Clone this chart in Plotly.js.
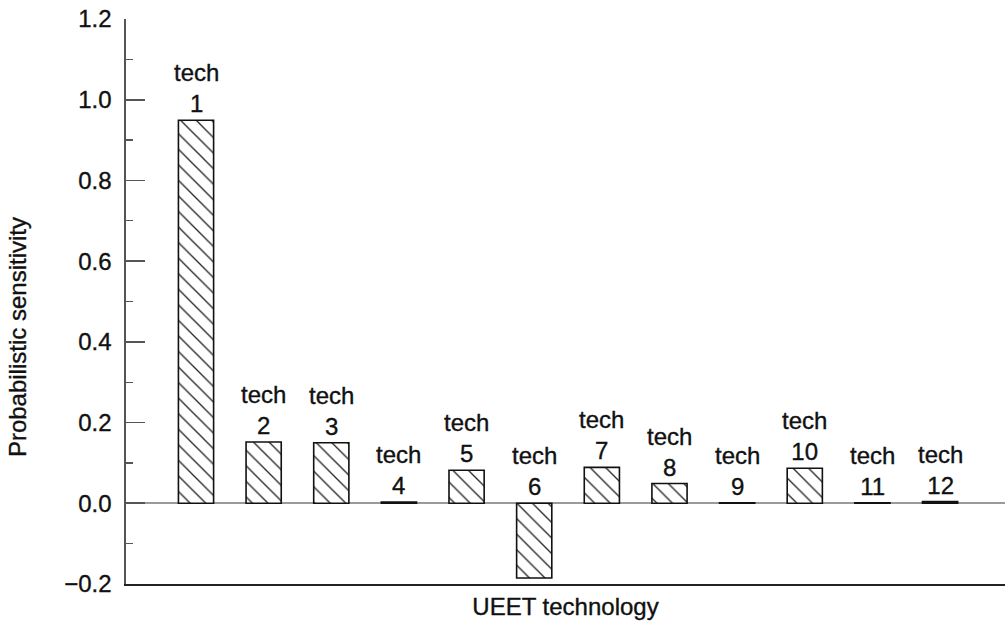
<!DOCTYPE html>
<html>
<head>
<meta charset="utf-8">
<script src="https://cdn.plot.ly/plotly-3.0.1.min.js"></script>
<style>
  html, body { margin: 0; padding: 0; background: #fff; }
  #chart { width: 1005px; height: 625px; }
  #chart text { stroke: #111; stroke-width: 0.35px; }
</style>
</head>
<body>
<div id="chart"></div>
<script>
const categories = ["1","2","3","4","5","6","7","8","9","10","11","12"];
const labelPrefix = "tech";
const sensitivity = [0.949, 0.152, 0.150, 0.003, 0.082, -0.185, 0.089, 0.049, 0.001, 0.087, 0.001, 0.004];
const yTickVals = [-0.2, 0.0, 0.2, 0.4, 0.6, 0.8, 1.0, 1.2];
const xTitle = "UEET technology";
const yTitle = "Probabilistic sensitivity";

const FONT = "Liberation Sans, Arial, Helvetica, sans-serif";
const FS = 24;

const trace = {
  type: "bar",
  x: categories.map((c, i) => i),
  y: sensitivity,
  marker: {
    color: "#ffffff",
    line: { color: "#111111", width: 1.6 },
    pattern: { shape: "\\", size: 11, solidity: 0.12, fgcolor: "#222222", bgcolor: "#ffffff" }
  },
  hoverinfo: "skip"
};

const annotations = categories.map((c, i) => ({
  x: i,
  y: Math.max(sensitivity[i], 0),
  xref: "x", yref: "y",
  text: labelPrefix + "<br>" + c,
  showarrow: false,
  yanchor: "bottom",
  yshift: 1,
  font: { family: FONT, size: FS, color: "#111" }
}));

annotations.push({
  xref: "paper", yref: "paper",
  x: -0.124, y: 0.437,
  text: yTitle,
  textangle: -90,
  showarrow: false,
  xanchor: "center", yanchor: "middle",
  font: { family: FONT, size: FS, color: "#111" }
});

const layout = {
  width: 1005, height: 625,
  margin: { l: 126, r: 0, t: 19, b: 41 },
  paper_bgcolor: "#fff", plot_bgcolor: "#fff",
  showlegend: false,
  bargap: 0.48,
  font: { family: FONT, size: FS, color: "#111" },
  xaxis: {
    type: "linear",
    range: [-1.035, 11.96],
    showticklabels: false,
    ticks: "",
    showgrid: false,
    zeroline: false,
    showline: true,
    linecolor: "#222",
    linewidth: 1.6,
    title: { text: xTitle, font: { family: FONT, size: FS, color: "#111" }, standoff: 13 },
    fixedrange: true
  },
  yaxis: {
    range: [-0.2, 1.2],
    tickvals: yTickVals,
    tickformat: ".1f",
    ticks: "inside",
    ticklen: 19,
    tickwidth: 1.6,
    tickcolor: "#555",
    ticklabelstandoff: 8,
    minor: { dtick: 0.1, ticks: "inside", ticklen: 7, tickwidth: 1.4, tickcolor: "#555", showgrid: false },
    showgrid: false,
    zeroline: true,
    zerolinecolor: "#9a9a9a",
    zerolinewidth: 2,
    showline: true,
    linecolor: "#555",
    linewidth: 1.6,
    tickfont: { family: FONT, size: FS, color: "#111" },
    fixedrange: true
  },
  annotations: annotations
};

Plotly.newPlot("chart", [trace], layout, { staticPlot: true, displayModeBar: false });
</script>
</body>
</html>
